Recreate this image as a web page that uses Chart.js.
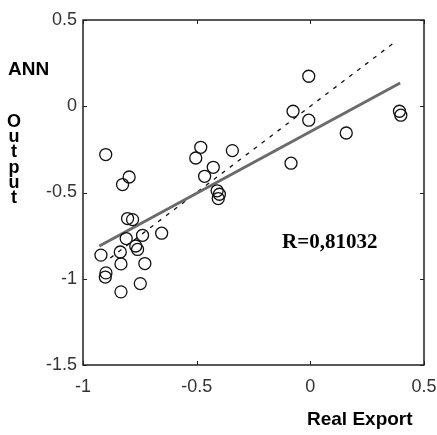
<!DOCTYPE html>
<html>
<head>
<meta charset="utf-8">
<script src="https://cdn.jsdelivr.net/npm/chart.js@4/dist/chart.umd.min.js"></script>
<style>
  html, body { margin: 0; padding: 0; background: #fff; }
  #wrap { width: 437px; height: 435px; }
</style>
</head>
<body>
<div id="wrap"><canvas id="annChart" width="437" height="435"></canvas></div>
<script>
// valores
const realExport = [-0.90, -0.007, -0.076, -0.007, 0.392, 0.398, 0.158, -0.085,
  -0.482, -0.504, -0.343, -0.427, -0.465, -0.41, -0.40, -0.405,
  -0.797, -0.826, -0.804, -0.782, -0.654, -0.738, -0.81, -0.768, -0.76,
  -0.836, -0.921, -0.833, -0.728, -0.899, -0.902, -0.748, -0.833];
const annOutput = [-0.28, 0.174, -0.029, -0.081, -0.029, -0.052, -0.155, -0.33,
  -0.238, -0.30, -0.257, -0.354, -0.406, -0.49, -0.51, -0.535,
  -0.41, -0.454, -0.651, -0.657, -0.736, -0.748, -0.767, -0.81, -0.83,
  -0.845, -0.863, -0.914, -0.912, -0.966, -0.99, -1.028, -1.076];

// reta de regressão e reta ideal (y = x)
const fitX = [-0.928, 0.395];
const fitY = [-0.81, 0.135];
const idealX = [-0.88, 0.37];
const idealY = [-0.88, 0.37];

const xTicks = [-1, -0.5, 0, 0.5];
const yTicks = [-1.5, -1, -0.5, 0, 0.5];

const toPoints = (xs, ys) => xs.map((x, i) => ({ x: x, y: ys[i] }));

// moldura, marcas internas e textos
const framePlugin = {
  id: 'framePlugin',
  afterDraw(chart) {
    const ctx = chart.ctx;
    const a = chart.chartArea;
    const xs = chart.scales.x;
    const ys = chart.scales.y;
    ctx.save();
    ctx.strokeStyle = '#222';
    ctx.lineWidth = 1.5;
    ctx.strokeRect(a.left, a.top, a.right - a.left, a.bottom - a.top);
    ctx.lineWidth = 1;
    xTicks.forEach(v => {
      const px = Math.round(xs.getPixelForValue(v)) + 0.5;
      ctx.beginPath();
      ctx.moveTo(px, a.bottom); ctx.lineTo(px, a.bottom - 4);
      ctx.moveTo(px, a.top); ctx.lineTo(px, a.top + 4);
      ctx.stroke();
    });
    yTicks.forEach(v => {
      const py = Math.round(ys.getPixelForValue(v)) + 0.5;
      ctx.beginPath();
      ctx.moveTo(a.left, py); ctx.lineTo(a.left + 4, py);
      ctx.moveTo(a.right, py); ctx.lineTo(a.right - 4, py);
      ctx.stroke();
    });

    ctx.fillStyle = '#000';
    ctx.textBaseline = 'middle';
    ctx.font = 'bold 19px "Liberation Sans", Arial, sans-serif';
    ctx.textAlign = 'left';
    ctx.fillText('ANN', 8, 70);
    ctx.font = 'bold 18px "Liberation Sans", Arial, sans-serif';
    ctx.textAlign = 'center';
    'Output'.split('').forEach((ch, i) => {
      ctx.fillText(ch, 14, 122 + i * 15.2);
    });
    ctx.font = 'bold 19px "Liberation Sans", Arial, sans-serif';
    ctx.textAlign = 'left';
    ctx.fillText('Real Export', 307, 420);

    ctx.font = 'bold 21px "Liberation Serif", "Times New Roman", serif';
    ctx.fillText('R=0,81032', 282, 243);
    ctx.restore();
  }
};

const tickFont = { size: 18, family: '"Liberation Sans", Arial, sans-serif' };

const ctx = document.getElementById('annChart').getContext('2d');
new Chart(ctx, {
  type: 'scatter',
  data: {
    datasets: [
      {
        label: 'ideal',
        data: toPoints(idealX, idealY),
        showLine: true,
        borderColor: '#111',
        borderWidth: 1.3,
        borderDash: [4, 6],
        pointRadius: 0,
        order: 3
      },
      {
        label: 'ajuste',
        data: toPoints(fitX, fitY),
        showLine: true,
        borderColor: '#6b6b6b',
        borderWidth: 3,
        pointRadius: 0,
        order: 2
      },
      {
        label: 'dados',
        data: toPoints(realExport, annOutput),
        showLine: false,
        pointRadius: 6,
        pointBorderWidth: 1.3,
        pointBorderColor: '#111',
        pointBackgroundColor: 'rgba(0,0,0,0)',
        order: 1
      }
    ]
  },
  options: {
    responsive: false,
    animation: false,
    layout: { padding: { left: 0, top: 20, right: 13, bottom: 0 } },
    scales: {
      x: {
        type: 'linear',
        min: -1,
        max: 0.5,
        afterFit: scale => {
          scale.height = 70;
          scale.paddingLeft = 0;
          scale.paddingRight = 0;
        },
        afterBuildTicks: scale => { scale.ticks = xTicks.map(v => ({ value: v })); },
        grid: { display: false, tickLength: 0 },
        border: { display: false },
        ticks: {
          padding: 11,
          color: '#333',
          font: tickFont,
          callback: v => String(v)
        }
      },
      y: {
        type: 'linear',
        min: -1.5,
        max: 0.5,
        afterFit: scale => {
          scale.width = 83;
          scale.paddingTop = 0;
          scale.paddingBottom = 0;
        },
        afterBuildTicks: scale => { scale.ticks = yTicks.map(v => ({ value: v })); },
        grid: { display: false, tickLength: 0 },
        border: { display: false },
        ticks: {
          padding: 6,
          color: '#333',
          font: tickFont,
          callback: v => String(v)
        }
      }
    },
    plugins: {
      legend: { display: false },
      tooltip: { enabled: false }
    }
  },
  plugins: [framePlugin]
});
</script>
</body>
</html>
